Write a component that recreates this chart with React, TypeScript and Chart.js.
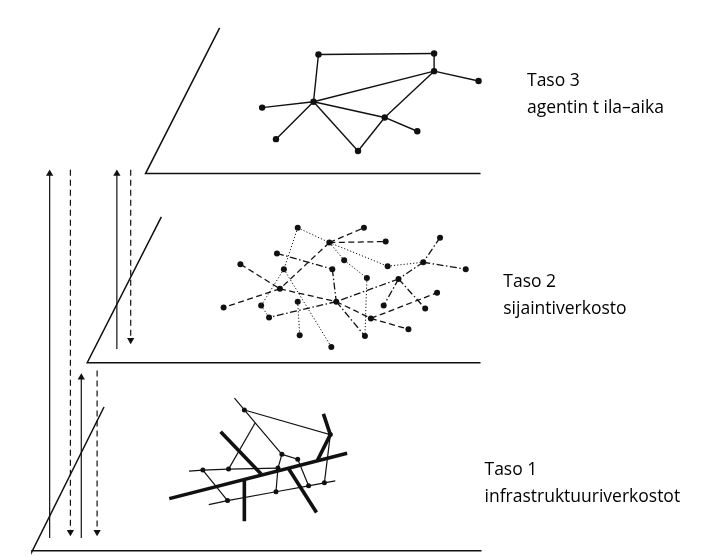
import { useEffect, useRef } from "react";
import { Chart, registerables } from "chart.js";

Chart.register(...registerables);

type P = [number, number];

// ---- Plane outlines (diagonal edge + bottom edge) ----
const plane3: P[] = [[218, 24], [143, 172], [482, 172]];
const plane2: P[] = [[159, 216], [84, 364], [482, 364]];
const plane1: P[] = [[101, 409], [28, 556], [28, 555], [483, 555]];

// ---- Layer 3: agent space-time network ----
const layer3Nodes: P[] = [
  [318, 51], [435, 50], [435, 68], [480, 78], [313, 99],
  [261, 105], [385, 115], [418, 129], [275, 137], [358, 149],
];
const layer3Edges: [number, number][] = [
  [0, 1], [1, 2], [0, 4], [4, 2], [2, 3], [4, 5], [4, 6], [6, 7], [4, 8], [4, 9], [9, 6], [6, 2],
];

// ---- Layer 2: location network ----
const layer2Nodes: P[] = [
  [297, 227], [364, 227], [329, 242], [386, 241], [441, 237],
  [276, 253], [344, 260], [388, 266], [424, 262], [239, 264],
  [467, 269], [283, 269], [332, 269], [367, 278], [399, 279],
  [279, 289], [438, 293], [222, 308], [297, 302], [336, 302],
  [260, 306], [384, 306], [426, 309], [268, 318], [371, 319],
  [409, 330], [299, 336], [365, 337], [331, 348],
];
const layer2Dashed: [number, number][] = [
  [2, 1], [2, 3], [2, 15], [15, 17], [9, 15], [15, 19], [19, 24], [24, 25], [24, 16],
];
const layer2DashDot: [number, number][] = [
  [4, 8], [8, 10], [8, 14], [14, 19], [19, 23], [14, 21], [14, 22], [5, 12], [12, 19], [19, 27],
];
const layer2Dotted: [number, number][] = [
  [0, 2], [0, 11], [11, 20], [11, 28], [20, 23], [18, 26], [2, 6], [6, 13], [13, 27], [2, 7], [7, 8],
];

// ---- Layer 1: infrastructure networks ----
const layer1Nodes: P[] = [
  [243, 412], [281, 457], [330, 437], [324, 486], [297, 462],
  [277, 471], [201, 473], [227, 472], [226, 504], [275, 495], [308, 489],
];
const layer1ThinLines: P[][] = [
  [[233, 400], [243, 412], [254, 425], [281, 457]],
  [[243, 412], [330, 437], [324, 486]],
  [[281, 457], [297, 462], [308, 489]],
  [[281, 457], [277, 471], [275, 495]],
  [[187, 474], [201, 473], [227, 472], [277, 471]],
  [[227, 472], [254, 425]],
  [[201, 473], [226, 504]],
  [[207, 508], [226, 504], [275, 495], [308, 489], [324, 486], [335, 484]],
];
const layer1ThickLines: P[][] = [
  [[167, 502], [347, 456]],
  [[219, 434], [260, 477]],
  [[243, 482], [243, 525]],
  [[288, 472], [316, 516]],
  [[323, 416], [330, 437], [317, 463]],
];

// ---- Vertical arrows between layers ----
const arrowX = [46, 67, 114, 128, 78, 94];
const arrowFrom = [542, 168, 350, 168, 542, 372];
const arrowTo = [168, 540, 168, 345, 375, 540];
const arrowDashed = [false, true, false, true, false, true];

// ---- Labels ----
const labelTitles = ["Taso 3", "Taso 2", "Taso 1"];
const labelSubtitles = ["agentin t ila–aika", "sijaintiverkosto", "infrastruktuuriverkostot"];
const labelX = [529, 505, 486];
const labelY = [78, 282, 473];

const INK = "#111111";

function pts(list: P[]) {
  return list.map(([x, y]) => ({ x, y }));
}

function lineDs(list: P[], width: number, dash: number[] = []) {
  return {
    type: "scatter" as const,
    data: pts(list),
    showLine: true,
    borderColor: INK,
    backgroundColor: INK,
    borderWidth: width,
    borderDash: dash,
    pointRadius: 0,
    pointHoverRadius: 0,
    clip: false as const,
  };
}

function nodeDs(list: P[], r: number) {
  return {
    type: "scatter" as const,
    data: pts(list),
    showLine: false,
    borderColor: INK,
    backgroundColor: INK,
    pointRadius: r,
    pointBorderWidth: 0,
    pointHoverRadius: r,
    clip: false as const,
  };
}

const labelPlugin = {
  id: "labels",
  afterDraw(chart: any) {
    const ctx = chart.ctx;
    ctx.save();
    ctx.fillStyle = "#000";
    ctx.font = "17.5px 'Open Sans'";
    ctx.textBaseline = "middle";
    ctx.textAlign = "left";
    for (let i = 0; i < labelTitles.length; i++) {
      const x = chart.scales.x.getPixelForValue(labelX[i]);
      const y = chart.scales.y.getPixelForValue(labelY[i]);
      ctx.fillText(labelTitles[i], x, y);
      ctx.fillText(labelSubtitles[i], x, y + 27);
    }
    ctx.restore();
  },
};

export default function App() {
  const ref = useRef<HTMLCanvasElement | null>(null);

  useEffect(() => {
    if (!ref.current) return;
    const datasets: any[] = [];

    [plane3, plane2, plane1].forEach((p) => datasets.push(lineDs(p, 1.5)));

    layer3Edges.forEach(([a, b]) => datasets.push(lineDs([layer3Nodes[a], layer3Nodes[b]], 1.4)));
    datasets.push(nodeDs(layer3Nodes, 3.2));

    layer2Dashed.forEach(([a, b]) => datasets.push(lineDs([layer2Nodes[a], layer2Nodes[b]], 1.3, [6, 3.5])));
    layer2DashDot.forEach(([a, b]) => datasets.push(lineDs([layer2Nodes[a], layer2Nodes[b]], 1.3, [7, 2.5, 1.5, 2.5])));
    layer2Dotted.forEach(([a, b]) => datasets.push(lineDs([layer2Nodes[a], layer2Nodes[b]], 1, [1.2, 2])));
    datasets.push(nodeDs(layer2Nodes, 3));

    layer1ThinLines.forEach((l) => datasets.push(lineDs(l, 1.2)));
    layer1ThickLines.forEach((l) => datasets.push(lineDs(l, 3.6)));
    datasets.push(nodeDs(layer1Nodes, 2.5));

    arrowX.forEach((x, i) => {
      const up = arrowTo[i] < arrowFrom[i];
      const tipCenter = up ? arrowTo[i] + 4 : arrowTo[i] - 4;
      datasets.push({
        ...lineDs([[x, arrowFrom[i]], [x, tipCenter]], 1.2, arrowDashed[i] ? [6, 4] : []),
        pointRadius: [0, 4.2],
        pointStyle: "triangle",
        rotation: up ? 0 : 180,
        pointBorderWidth: 0,
      });
    });

    const chart = new Chart(ref.current, {
      type: "scatter",
      data: { datasets },
      options: {
        responsive: false,
        animation: false,
        events: [],
        layout: { padding: 0 },
        scales: {
          x: { type: "linear", min: 0, max: 717, display: false },
          y: { type: "linear", min: 0, max: 557, reverse: true, display: false },
        },
        plugins: { legend: { display: false }, tooltip: { enabled: false } },
      },
      plugins: [labelPlugin],
    });
    return () => chart.destroy();
  }, []);

  return (
    <div style={{ position: "absolute", left: 0, top: 0, width: 717, height: 557, background: "#fff" }}>
      <canvas ref={ref} width={717} height={557} style={{ width: 717, height: 557 }} />
    </div>
  );
}
